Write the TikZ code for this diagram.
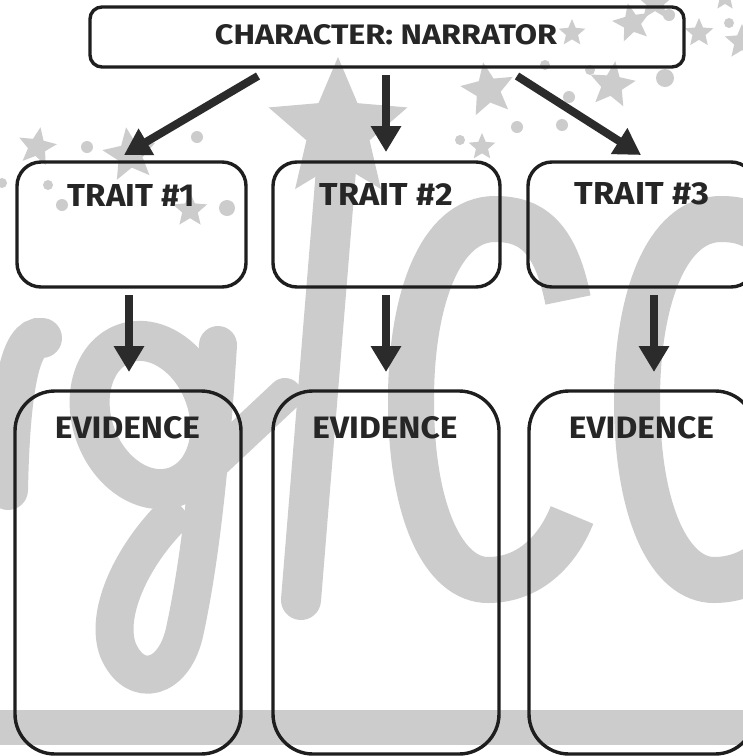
\documentclass[tikz,border=0pt]{standalone}
\usepackage{fontspec}
\setmainfont{Fira Sans}
\usetikzlibrary{arrows.meta,shapes.geometric}
\definecolor{wm}{HTML}{CCCCCC}
\definecolor{ink}{HTML}{1E1E1E}
\definecolor{txt}{HTML}{262626}
\definecolor{arrc}{HTML}{2B2B2B}
\newcommand\lbl[3]{\resizebox{#1}{#2}{\bfseries #3}}
\tikzset{
  wmstroke/.style={draw=wm},
  wstar/.style={star, star points=5, star point ratio=2.2, fill=wm, draw=none, inner sep=0pt},
  wdot/.style={circle, fill=wm, draw=none, inner sep=0pt},
  boxshape/.style={draw=ink, line width=3.4pt, rectangle, inner sep=0pt},
  lab/.style={text=txt, inner sep=0pt, anchor=center},
  arr/.style={draw=arrc, line width=8pt, -{Triangle[length=26pt,width=29pt]}},
}
\begin{document}
\begin{tikzpicture}[x=1pt,y=-1pt]
\useasboundingbox (0,0) rectangle (743,756);
\clip (0,0) rectangle (743,756);
\fill[white] (0,0) rectangle (743,756);
% ---------- watermark ----------
\fill[wm] (0,710) rectangle (743,745);
% big C letters
\draw[wmstroke, line width=46pt]
  (568,300) .. controls (555,235) and (530,219) .. (495,219)
  .. controls (440,219) and (411,300) .. (411,400)
  .. controls (411,515) and (445,580) .. (488,580)
  .. controls (530,580) and (558,550) .. (572,515);
\begin{scope}[xshift=226pt]
\draw[wmstroke, line width=46pt]
  (568,300) .. controls (555,235) and (530,219) .. (495,219)
  .. controls (440,219) and (411,300) .. (411,400)
  .. controls (411,515) and (445,580) .. (488,580)
  .. controls (530,580) and (558,550) .. (572,515);
\end{scope}
% I stroke
\draw[wmstroke, line width=40pt, line cap=round] (336,170) -- (301,600);
% g letter
\draw[wmstroke, line width=40pt, rotate around={20:(150,415)}] (150,415) ellipse [x radius=58pt, y radius=76pt];
\draw[wmstroke, line width=38pt, line cap=round]
  (218,345) .. controls (210,470) and (200,560) .. (185,630)
  .. controls (175,680) and (135,690) .. (118,650)
  .. controls (105,615) and (130,560) .. (168,520);
\draw[wmstroke, line width=34pt, line cap=round] (205,470) -- (285,395);
% left partial letter
\draw[wmstroke, line width=40pt, line cap=round]
  (8,490) .. controls (10,390) and (20,335) .. (42,338);
% stars
\node[wstar, minimum size=146pt] (bigstar) at (338,130) {};
\node[wstar, minimum size=56pt, rotate=10] (s1) at (488,90) {};
\node[wstar, minimum size=48pt, rotate=-8] (s2) at (612,85) {};
\node[wstar, minimum size=40pt, rotate=12] (s3) at (632,23) {};
\node[wstar, minimum size=30pt] (s4) at (699,33) {};
\node[wstar, minimum size=28pt] (s5) at (572,33) {};
\node[wstar, minimum size=28pt] (s6) at (482,147) {};
\node[wstar, minimum size=40pt, rotate=-10] (s7) at (37,147) {};
\node[wstar, minimum size=56pt, rotate=8] (s8) at (130,155) {};
\node[wstar, minimum size=36pt] (s9) at (190,210) {};
\node[wstar, minimum size=40pt] (s10) at (655,2) {};
\node[wstar, minimum size=36pt] (s11) at (742,42) {};
\node[wstar, minimum size=26pt] (s12) at (725,-2) {};
\foreach \x/\y/\r [count=\i] in {87/147/6,197/137/6,48/185/5,62/205/6,227/208/8,2/183/5,545/65/5,590/70/5,517/127/6,562/125/6,669/15/6,729/23/5,665/78/9,569/97/6,460/140/5}
  \node[wdot, minimum size=2*\r pt] (d\i) at (\x,\y) {};
% ---------- boxes ----------
\node[boxshape, minimum width=594pt, minimum height=60pt, rounded corners=12pt] (top) at (387,37) {};
\node[boxshape, minimum width=229pt, minimum height=125pt, rounded corners=24pt] (t1) at (131.5,224.5) {};
\node[boxshape, minimum width=227pt, minimum height=125pt, rounded corners=24pt] (t2) at (386.5,224.5) {};
\node[boxshape, minimum width=227pt, minimum height=125pt, rounded corners=24pt] (t3) at (641.5,224.5) {};
\node[boxshape, minimum width=226pt, minimum height=363pt, rounded corners=40pt] (e1) at (128,572.5) {};
\node[boxshape, minimum width=226pt, minimum height=363pt, rounded corners=40pt] (e2) at (386,572.5) {};
\node[boxshape, minimum width=226pt, minimum height=363pt, rounded corners=40pt] (e3) at (642,572.5) {};
% ---------- labels ----------
\node[lab] (toplab) at (386,35) {\lbl{342pt}{20pt}{CHARACTER: NARRATOR}};
\node[lab] (t1lab) at (131.5,195) {\lbl{127pt}{22pt}{TRAIT \#1}};
\node[lab] (t2lab) at (386.5,194) {\lbl{133pt}{22pt}{TRAIT \#2}};
\node[lab] (t3lab) at (642,194) {\lbl{134pt}{22pt}{TRAIT \#3}};
\node[lab] (e1lab) at (127.5,428) {\lbl{145pt}{22pt}{EVIDENCE}};
\node[lab] (e2lab) at (385,428) {\lbl{145pt}{22pt}{EVIDENCE}};
\node[lab] (e3lab) at (641.5,428) {\lbl{145pt}{22pt}{EVIDENCE}};
% ---------- arrows ----------
\coordinate (a1s) at (258,76);
\coordinate (a1e) at (124,155);
\coordinate (a2s) at (386,75);
\coordinate (a2e) at (386,152);
\coordinate (a3s) at (517,76);
\coordinate (a3e) at (641,155);
\coordinate (b1s) at (129,295);
\coordinate (b1e) at (129,372);
\coordinate (b2s) at (386,295);
\coordinate (b2e) at (386,372);
\coordinate (b3s) at (654,295);
\coordinate (b3e) at (654,372);
\draw[arr] (a1s) -- (a1e);
\draw[arr] (a2s) -- (a2e);
\draw[arr] (a3s) -- (a3e);
\draw[arr] (b1s) -- (b1e);
\draw[arr] (b2s) -- (b2e);
\draw[arr] (b3s) -- (b3e);
\end{tikzpicture}
\end{document}
